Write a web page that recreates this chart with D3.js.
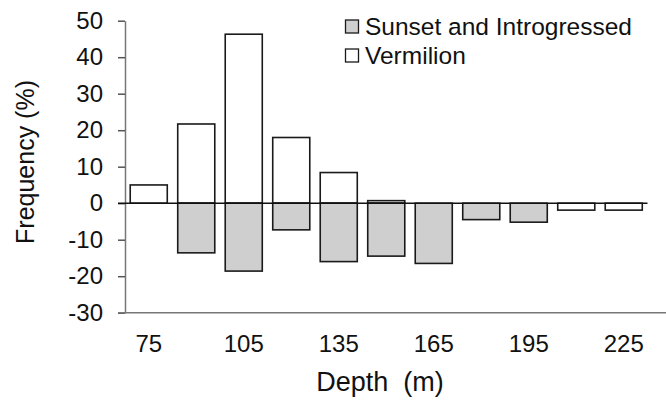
<!DOCTYPE html>
<html>
<head>
<meta charset="utf-8">
<script src="https://d3js.org/d3.v7.min.js"></script>
<style>
    body { margin: 0; background: #fff; }
    svg text { font-family: "Liberation Sans", Arial, sans-serif; fill: #111; }
</style>
</head>
<body>
<div id="chart"></div>
<script>
    // depth classes (m)
    const depths = [75, 90, 105, 120, 135, 150, 165, 180, 195, 210, 225];
    // only every other depth gets a label
    const depthLabels = [75, 105, 135, 165, 195, 225];
    // frequency (%) - vermilion plotted up, sunset/introgressed down
    const vermilion = [5, 21.7, 46.3, 18, 8.4, 0.7, 0, 0, 0, -1.9, -1.9];
    const sunset = [0, -13.6, -18.6, -7.3, -16.0, -14.5, -16.5, -4.5, -5.2, 0, 0];
    const yTicks = [-30, -20, -10, 0, 10, 20, 30, 40, 50];
    const seriesNames = ["Sunset and Introgressed", "Vermilion"];
    const seriesFill = ["#d0cfd0", "#ffffff"];

    const W = 666, H = 403;
    const plotL = 125, plotR = 647.5, plotT = 20.7, plotB = 312.7;

    const svg = d3.select("#chart").append("svg")
        .attr("width", W).attr("height", H);

    const x = d3.scaleBand()
        .domain(depths)
        .range([plotL, plotR])
        .paddingInner(0.22)
        .paddingOuter(0.11);

    const y = d3.scaleLinear()
        .domain([-30, 50])
        .range([plotB, plotT]);

    // y axis (plain hyphen for negatives, like the original)
    const yAxis = svg.append("g")
        .attr("transform", `translate(${plotL},0)`)
        .call(d3.axisLeft(y).tickValues(yTicks).tickFormat(d => String(d))
            .tickSize(7).tickSizeOuter(0).tickPadding(15));
    yAxis.select(".domain").attr("stroke", "#777").attr("stroke-width", 1.5);
    yAxis.selectAll(".tick line").attr("stroke", "#555").attr("stroke-width", 1.5);
    yAxis.selectAll("text").attr("font-size", 24).attr("fill", "#111")
        .style("font-family", "'Liberation Sans', Arial, sans-serif");

    // bottom line at -30
    svg.append("line")
        .attr("x1", plotL - 7).attr("x2", W)
        .attr("y1", y(-30)).attr("y2", y(-30))
        .attr("stroke", "#777").attr("stroke-width", 1.5);

    // x tick labels
    svg.selectAll(".xlab").data(depthLabels).enter().append("text")
        .attr("class", "xlab")
        .attr("x", d => x(d) + x.bandwidth() / 2)
        .attr("y", 351.5)
        .attr("text-anchor", "middle")
        .attr("font-size", 24)
        .text(d => d);

    // vermilion bars
    svg.selectAll(".verm").data(depths).enter().append("rect")
        .attr("class", "verm")
        .attr("x", d => x(d))
        .attr("width", x.bandwidth())
        .attr("y", (d, i) => y(Math.max(0, vermilion[i])))
        .attr("height", (d, i) => Math.abs(y(vermilion[i]) - y(0)))
        .attr("fill", seriesFill[1])
        .attr("stroke", "#1a1a1a")
        .attr("stroke-width", 1.6)
        .style("display", (d, i) => vermilion[i] === 0 ? "none" : null);

    // sunset bars
    svg.selectAll(".sun").data(depths).enter().append("rect")
        .attr("class", "sun")
        .attr("x", d => x(d))
        .attr("width", x.bandwidth())
        .attr("y", (d, i) => y(Math.max(0, sunset[i])))
        .attr("height", (d, i) => Math.abs(y(sunset[i]) - y(0)))
        .attr("fill", seriesFill[0])
        .attr("stroke", "#1a1a1a")
        .attr("stroke-width", 1.6)
        .style("display", (d, i) => sunset[i] === 0 ? "none" : null);

    // zero line
    svg.append("line")
        .attr("x1", plotL - 7).attr("x2", plotR)
        .attr("y1", y(0)).attr("y2", y(0))
        .attr("stroke", "#111").attr("stroke-width", 1.6);

    // axis titles
    svg.append("text")
        .attr("transform", "translate(34,162) rotate(-90)")
        .attr("text-anchor", "middle")
        .attr("font-size", 25)
        .text("Frequency (%)");
    svg.append("text")
        .attr("x", 380).attr("y", 391)
        .attr("text-anchor", "middle")
        .attr("font-size", 27)
        .style("white-space", "pre")
        .text("Depth  (m)");

    // legend
    const leg = svg.selectAll(".leg").data(seriesNames).enter().append("g")
        .attr("class", "leg")
        .attr("transform", (d, i) => `translate(345.5,${20 + i * 29})`);
    leg.append("rect")
        .attr("width", 13).attr("height", 13)
        .attr("fill", (d, i) => seriesFill[i])
        .attr("stroke", "#1a1a1a").attr("stroke-width", 1.3);
    leg.append("text")
        .attr("x", 19.5).attr("y", 15)
        .attr("font-size", 24.5)
        .text(d => d);
</script>
</body>
</html>
